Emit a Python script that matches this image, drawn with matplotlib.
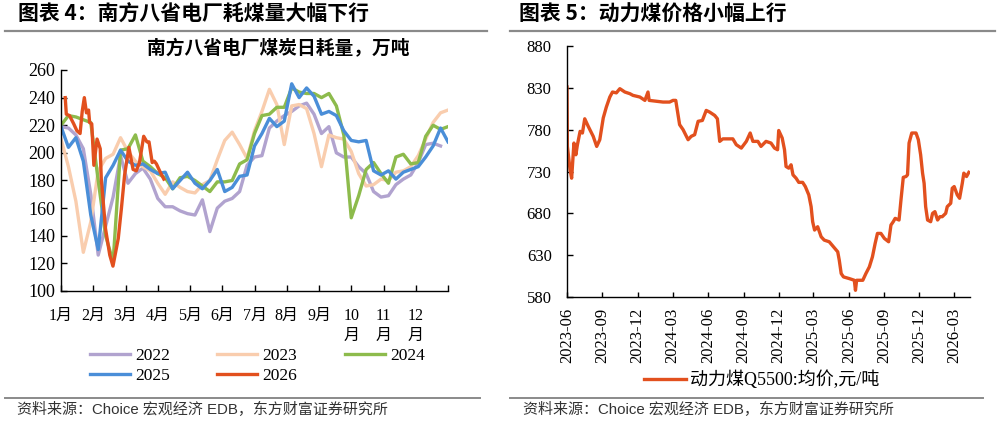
import numpy as np
import pandas as pd
import matplotlib
matplotlib.use("Agg")
import matplotlib.pyplot as plt
from matplotlib.lines import Line2D

# ---- left chart: daily coal burn of 8 southern provinces, weekly, 万吨 ----
month_labels = ["1月", "2月", "3月", "4月", "5月", "6月", "7月", "8月", "9月",
                "10\n月", "11\n月", "12\n月"]

coal_2022 = [219, 218, 213, 203, 170, 126, 147, 168, 198, 178, 185, 189, 181, 167,
             161, 161, 158, 156, 155, 166, 143, 160, 165, 167, 172, 191, 197, 198,
             218, 223, 227, 230, 234, 236, 228, 214, 219, 200, 197, 197, 190, 185,
             172, 168, 169, 177, 181, 184, 193, 206, 207, 205]
coal_2023 = [210, 190, 165, 128, 150, 187, 196, 199, 211, 201, 194, 190, 187, 178,
             170, 179, 175, 172, 171, 177, 180, 195, 209, 215, 206, 196, 216, 230,
             246, 235, 206, 234, 235, 232, 214, 190, 213, 211, 210, 201, 185, 176,
             177, 181, 180, 186, 187, 190, 198, 210, 222, 229, 231]
coal_2024 = [220, 227, 226, 224, 222, 180, 140, 121, 202, 203, 213, 194, 190, 185,
             182, 174, 182, 183, 180, 176, 172, 179, 179, 180, 192, 195, 214, 227,
             228, 233, 233, 247, 244, 243, 243, 240, 243, 234, 213, 153, 169, 188,
             193, 185, 178, 197, 199, 192, 193, 212, 220, 217, 219]
coal_2025 = [219, 204, 211, 194, 155, 130, 182, 191, 202, 194, 191, 192, 188, 185,
             186, 174, 180, 186, 178, 174, 180, 188, 172, 175, 183, 184, 205, 214,
             225, 219, 223, 250, 240, 247, 241, 228, 230, 227, 216, 209, 208, 209,
             187, 184, 187, 181, 186, 188, 190, 197, 205, 218, 208]
# 2026 is reported more often: day of year and value
coal_2026_day = [4, 5, 8, 12, 15, 18, 20, 22, 24, 26, 27, 29, 31, 34, 37, 38, 42,
                 46, 49, 54, 57, 60, 64, 68, 71, 74, 78, 81, 83, 86, 88, 90, 93, 97]
coal_2026 = [240, 228, 227, 221, 216, 214, 230, 240, 229, 231, 222, 221, 191, 210,
             203, 181, 145, 126, 118, 138, 160, 184, 204, 188, 187, 193, 212, 208,
             208, 193, 194, 192, 187, 181]

# ---- right chart: thermal coal Q5500 price, 元/吨 ----
price_dates = [
    "2023-06-01", "2023-06-02", "2023-06-09", "2023-06-13", "2023-06-19", "2023-06-24",
    "2023-06-28", "2023-07-05", "2023-07-11", "2023-07-17", "2023-07-26", "2023-08-08",
    "2023-08-17", "2023-08-25", "2023-09-03", "2023-09-11", "2023-09-20", "2023-09-27",
    "2023-10-07", "2023-10-16", "2023-10-29", "2023-11-11", "2023-11-19", "2023-12-07",
    "2023-12-20", "2023-12-28", "2023-12-31", "2024-01-19", "2024-02-05", "2024-02-22",
    "2024-03-02", "2024-03-09", "2024-03-19", "2024-03-28", "2024-04-10", "2024-04-18",
    "2024-04-27", "2024-05-06", "2024-05-17", "2024-05-27", "2024-06-05", "2024-06-18",
    "2024-06-25", "2024-07-01", "2024-07-09", "2024-08-04", "2024-08-13", "2024-08-26",
    "2024-09-08", "2024-09-18", "2024-09-25", "2024-10-08", "2024-10-16", "2024-10-29",
    "2024-11-11", "2024-11-20", "2024-11-28", "2024-12-01", "2024-12-10", "2024-12-16",
    "2024-12-20", "2024-12-27", "2025-01-02", "2025-01-07", "2025-01-15", "2025-01-22",
    "2025-02-01", "2025-02-08", "2025-02-17", "2025-02-23", "2025-02-27", "2025-03-04",
    "2025-03-12", "2025-03-21", "2025-03-29", "2025-04-11", "2025-04-22", "2025-05-03",
    "2025-05-07", "2025-05-12", "2025-05-18", "2025-06-02", "2025-06-15", "2025-06-18",
    "2025-06-21", "2025-06-28", "2025-07-07", "2025-07-15", "2025-07-24", "2025-08-01",
    "2025-08-08", "2025-08-14", "2025-08-23", "2025-09-01", "2025-09-12", "2025-09-18",
    "2025-09-24", "2025-09-29", "2025-10-09", "2025-10-14", "2025-10-20", "2025-10-27",
    "2025-10-31", "2025-11-04", "2025-11-11", "2025-11-22", "2025-11-28", "2025-12-04",
    "2025-12-09", "2025-12-13", "2025-12-17", "2025-12-22", "2025-12-30", "2026-01-04",
    "2026-01-10", "2026-01-17", "2026-01-23", "2026-01-29", "2026-02-07", "2026-02-11",
    "2026-02-20", "2026-02-24", "2026-03-01", "2026-03-09", "2026-03-15", "2026-03-22",
    "2026-03-26", "2026-04-02", "2026-04-08"]
price_values = [
    831, 760, 732, 722, 764, 750, 762, 778, 776, 793, 784, 772, 760, 768, 794, 807,
    819, 825, 824, 829, 825, 823, 821, 819, 815, 825, 815, 814, 813, 813, 815, 815,
    786, 780, 768, 772, 774, 790, 791, 803, 801, 797, 793, 766, 769, 769, 762, 758,
    766, 776, 766, 766, 760, 766, 764, 758, 756, 779, 770, 756, 736, 734, 738, 726,
    722, 717, 717, 712, 702, 688, 670, 660, 664, 652, 648, 646, 640, 634, 624, 608,
    604, 602, 600, 588, 600, 600, 600, 608, 616, 628, 644, 656, 656, 650, 646, 666,
    670, 674, 672, 696, 723, 724, 726, 764, 776, 776, 768, 750, 728, 716, 688, 672,
    670, 680, 682, 672, 676, 676, 680, 688, 692, 710, 712, 702, 698, 716, 728, 724, 729]

SERIF = ["Liberation Serif", "Noto Sans CJK SC"]
SANS = ["Liberation Sans", "Noto Sans CJK SC"]
CJK = ["Noto Sans CJK SC"]
plt.rcParams["font.family"] = SERIF

W, H = 998, 422
fig = plt.figure(figsize=(W / 100, H / 100), dpi=100)


def fx(px):
    return px / W


def fy(py):
    return 1 - py / H


def style_axes(ax):
    for s in ["top", "right"]:
        ax.spines[s].set_visible(False)
    for s in ["left", "bottom"]:
        ax.spines[s].set_color("black")
        ax.spines[s].set_linewidth(1.0)


# ---------------- left chart ----------------
ax1 = fig.add_axes([fx(61), fy(291), fx(448 - 61), (291 - 70) / H])
style_axes(ax1)

week_pos = lambda v: np.arange(len(v)) * 12 / 52
series = [
    ("2022", coal_2022, "#B1A3CF"),
    ("2023", coal_2023, "#F9CDAE"),
    ("2024", coal_2024, "#8DBB4C"),
    ("2025", coal_2025, "#4A8ED8"),
]
handles = {}
for name, vals, col in series:
    handles[name], = ax1.plot(week_pos(vals), vals, color=col, lw=2.4)
handles["2026"], = ax1.plot(np.array(coal_2026_day) * 12 / 365, coal_2026,
                            color="#E2501E", lw=2.4)

ax1.set_xlim(0, 12)
ax1.set_ylim(100, 260)
ax1.set_yticks(range(100, 261, 20))
ax1.set_xticks(range(13))
ax1.set_xticklabels(month_labels + [""])
ax1.tick_params(axis="y", direction="in", length=4.5, width=1, labelsize=13, pad=4)
ax1.tick_params(axis="x", direction="in", length=4.5, width=1, labelsize=11.5, pad=12)
for lbl in ax1.get_xticklabels() + ax1.get_yticklabels():
    lbl.set_family(SERIF)
for lbl in ax1.get_xticklabels():
    lbl.set_linespacing(1.35)

order = ["2022", "2025", "2023", "2026", "2024"]
fig.legend([handles[k] for k in order], order, ncol=3, loc="center left",
           bbox_to_anchor=(fx(81), fy(366)), frameon=False,
           borderpad=0, handlelength=2.3, handletextpad=0.3,
           columnspacing=2.75, labelspacing=0.25, prop={"family": SERIF, "size": 12.5})

fig.text(fx(278), fy(49), "南方八省电厂煤炭日耗量，万吨", ha="center", va="center",
         fontsize=13.5, fontweight="bold", family=CJK)

# ---------------- right chart ----------------
ax2 = fig.add_axes([fx(567), fy(297), fx(970 - 567), (297 - 46) / H])
style_axes(ax2)
dates = pd.to_datetime(price_dates)
line_price, = ax2.plot(dates, price_values, color="#E2501E", lw=2.4)
ax2.set_xlim(pd.Timestamp("2023-06-01"), pd.Timestamp("2026-04-11"))
ax2.set_ylim(580, 880)
ax2.set_yticks(range(580, 881, 50))
ticks = pd.date_range("2023-06-01", "2026-03-01", freq="3MS")
ax2.set_xticks(ticks)
ax2.set_xticklabels([d.strftime("%Y-%m") for d in ticks], rotation=90)
ax2.tick_params(axis="y", direction="in", length=4, width=1, labelsize=12, pad=11)
ax2.tick_params(axis="x", direction="in", length=3.5, width=1, labelsize=12, pad=8)
for lbl in ax2.get_xticklabels() + ax2.get_yticklabels():
    lbl.set_family(SERIF)

fig.legend([line_price], ["动力煤Q5500:均价,元/吨"], loc="center left",
           bbox_to_anchor=(fx(635), fy(380)), frameon=False,
           borderpad=0, handlelength=2.3, handletextpad=0.25,
           prop={"family": SERIF, "size": 13})

# ---------------- titles, rules, sources ----------------
for x0, title in [(18, "图表 4：南方八省电厂耗煤量大幅下行"),
                  (519, "图表 5：动力煤价格小幅上行")]:
    fig.text(fx(x0), fy(14.5), title, ha="left", va="center",
             fontsize=15, fontweight="bold", family=CJK)

for (a, b) in [(5, 487), (510, 995)]:
    fig.add_artist(Line2D([fx(a), fx(b)], [fy(31), fy(31)], color="#8a8a8a", lw=1.6))
for (a, b) in [(5, 480), (510, 983)]:
    fig.add_artist(Line2D([fx(a), fx(b)], [fy(398), fy(398)], color="#8a8a8a", lw=1.4))

for x0 in [17, 523]:
    fig.text(fx(x0), fy(409), "资料来源：Choice 宏观经济 EDB，东方财富证券研究所",
             ha="left", va="center", fontsize=10.8, color="#333333", family=SANS)

fig.savefig("out.png", dpi=100)
